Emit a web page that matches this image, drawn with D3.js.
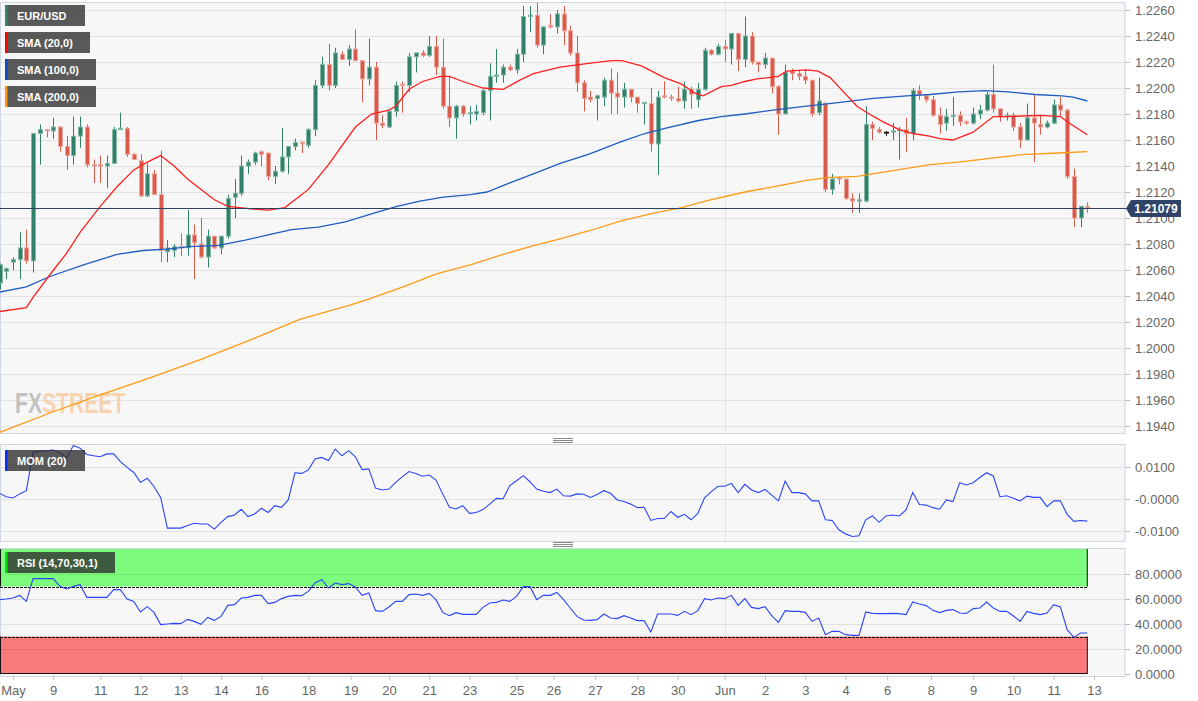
<!DOCTYPE html>
<html>
<head>
<meta charset="utf-8">
<script src="https://cdn.jsdelivr.net/npm/d3@7"></script>
<style>
  body { margin: 0; background: #fff; }
  svg { display: block; font-family: "Liberation Sans", Arial, sans-serif; }
</style>
</head>
<body>
<div id="chart"></div>
<script>
// ---- data (4h candles, EUR/USD) ----
const opens = [1.2050,1.2059,1.2066,1.2068,1.2077,1.2067,1.2165,1.2168,1.2167,1.2170,
1.2155,1.2148,1.2163,1.2170,1.2141,1.2141,1.2140,1.2142,1.2168,1.2169,
1.2149,1.2144,1.2117,1.2134,1.2118,1.2074,1.2075,1.2078,1.2077,1.2087,
1.2080,1.2070,1.2086,1.2077,1.2086,1.2116,1.2119,1.2140,1.2143,1.2151,
1.2150,1.2132,1.2136,1.2147,1.2155,1.2158,1.2156,1.2168,1.2202,1.2218,
1.2202,1.2226,1.2222,1.2230,1.2221,1.2207,1.2216,1.2173,1.2170,1.2182,
1.2203,1.2202,1.2224,1.2227,1.2225,1.2232,1.2216,1.2186,1.2177,1.2186,
1.2180,1.2180,1.2181,1.2198,1.2209,1.2210,1.2216,1.2214,1.2226,1.2255,
1.2256,1.2233,1.2248,1.2247,1.2257,1.2244,1.2227,1.2204,1.2193,1.2192,
1.2193,1.2206,1.2196,1.2193,1.2199,1.2193,1.2188,1.2188,1.2157,1.2194,
1.2193,1.2192,1.2190,1.2199,1.2191,1.2199,1.2229,1.2226,1.2232,1.2230,
1.2242,1.2222,1.2240,1.2220,1.2218,1.2223,1.2201,1.2180,1.2213,1.2211,
1.2209,1.2206,1.2181,1.2188,1.2122,1.2131,1.2130,1.2115,1.2113,1.2113,
1.2172,1.2168,1.2166,1.2166,1.2167,1.2168,1.2165,1.2198,1.2194,1.2191,
1.2179,1.2173,1.2178,1.2179,1.2174,1.2173,1.2180,1.2183,1.2195,1.2184,
1.2178,1.2179,1.2170,1.2160,1.2177,1.2172,1.2170,1.2173,1.2187,1.2183,
1.2132,1.2100,1.2109];
const highs = [1.2065,1.2062,1.2070,1.2089,1.2091,1.2165,1.2172,1.2168,1.2177,1.2170,
1.2163,1.2178,1.2178,1.2172,1.2145,1.2148,1.2148,1.2170,1.2181,1.2170,
1.2150,1.2149,1.2142,1.2137,1.2152,1.2083,1.2080,1.2088,1.2106,1.2095,
1.2100,1.2091,1.2086,1.2086,1.2118,1.2130,1.2148,1.2145,1.2151,1.2152,
1.2150,1.2140,1.2169,1.2155,1.2161,1.2159,1.2169,1.2206,1.2224,1.2234,
1.2231,1.2228,1.2233,1.2245,1.2221,1.2238,1.2220,1.2179,1.2184,1.2205,
1.2205,1.2227,1.2227,1.2229,1.2240,1.2240,1.2238,1.2209,1.2187,1.2187,
1.2186,1.2187,1.2199,1.2219,1.2230,1.2218,1.2218,1.2230,1.2263,1.2263,
1.2266,1.2247,1.2257,1.2260,1.2263,1.2248,1.2240,1.2206,1.2198,1.2195,
1.2208,1.2215,1.2212,1.2204,1.2199,1.2193,1.2189,1.2200,1.2198,1.2205,
1.2195,1.2201,1.2205,1.2201,1.2204,1.2231,1.2230,1.2234,1.2237,1.2242,
1.2242,1.2255,1.2243,1.2220,1.2227,1.2223,1.2202,1.2218,1.2215,1.2214,
1.2214,1.2206,1.2208,1.2189,1.2134,1.2132,1.2130,1.2119,1.2119,1.2186,
1.2174,1.2170,1.2167,1.2173,1.2170,1.2177,1.2200,1.2202,1.2194,1.2194,
1.2185,1.2184,1.2193,1.2182,1.2175,1.2185,1.2187,1.2197,1.2218,1.2184,
1.2181,1.2181,1.2173,1.2188,1.2195,1.2179,1.2175,1.2191,1.2193,1.2184,
1.2138,1.2109,1.2112];
const lows = [1.2045,1.2053,1.2060,1.2053,1.2065,1.2058,1.2141,1.2162,1.2161,1.2151,
1.2137,1.2141,1.2154,1.2139,1.2127,1.2127,1.2123,1.2142,1.2168,1.2147,
1.2145,1.2116,1.2116,1.2118,1.2066,1.2066,1.2070,1.2071,1.2071,1.2053,
1.2069,1.2062,1.2076,1.2072,1.2084,1.2100,1.2117,1.2134,1.2141,1.2140,
1.2129,1.2126,1.2135,1.2134,1.2152,1.2150,1.2154,1.2163,1.2200,1.2198,
1.2200,1.2222,1.2217,1.2221,1.2189,1.2202,1.2160,1.2169,1.2169,1.2178,
1.2181,1.2197,1.2212,1.2224,1.2224,1.2210,1.2184,1.2170,1.2161,1.2178,
1.2172,1.2175,1.2179,1.2175,1.2204,1.2204,1.2213,1.2211,1.2220,1.2243,
1.2231,1.2226,1.2246,1.2242,1.2233,1.2225,1.2197,1.2182,1.2189,1.2175,
1.2186,1.2180,1.2180,1.2185,1.2189,1.2181,1.2172,1.2151,1.2133,1.2192,
1.2190,1.2189,1.2184,1.2184,1.2185,1.2198,1.2225,1.2225,1.2220,1.2218,
1.2213,1.2216,1.2218,1.2212,1.2215,1.2196,1.2164,1.2180,1.2206,1.2206,
1.2203,1.2178,1.2179,1.2120,1.2118,1.2126,1.2114,1.2104,1.2104,1.2112,
1.2160,1.2165,1.2163,1.2160,1.2145,1.2151,1.2160,1.2191,1.2189,1.2178,
1.2165,1.2167,1.2171,1.2171,1.2172,1.2172,1.2176,1.2182,1.2181,1.2174,
1.2175,1.2167,1.2154,1.2160,1.2143,1.2164,1.2169,1.2172,1.2178,1.2130,
1.2093,1.2093,1.2104];
const closes = [1.2064,1.2061,1.2068,1.2077,1.2067,1.2165,1.2168,1.2167,1.2170,1.2155,
1.2148,1.2163,1.2170,1.2141,1.2140,1.2140,1.2142,1.2168,1.2169,1.2149,
1.2145,1.2117,1.2134,1.2118,1.2075,1.2077,1.2078,1.2077,1.2087,1.2081,
1.2070,1.2086,1.2077,1.2086,1.2115,1.2119,1.2140,1.2143,1.2150,1.2149,
1.2132,1.2136,1.2147,1.2155,1.2158,1.2157,1.2168,1.2202,1.2218,1.2202,
1.2227,1.2222,1.2230,1.2221,1.2207,1.2216,1.2173,1.2171,1.2182,1.2202,
1.2202,1.2224,1.2227,1.2225,1.2232,1.2216,1.2186,1.2177,1.2186,1.2180,
1.2181,1.2182,1.2198,1.2209,1.2210,1.2216,1.2214,1.2226,1.2255,1.2256,
1.2233,1.2247,1.2247,1.2257,1.2244,1.2227,1.2204,1.2192,1.2191,1.2194,
1.2206,1.2196,1.2193,1.2199,1.2193,1.2188,1.2189,1.2157,1.2193,1.2193,
1.2192,1.2190,1.2199,1.2195,1.2199,1.2229,1.2226,1.2232,1.2230,1.2242,
1.2222,1.2240,1.2220,1.2218,1.2223,1.2201,1.2180,1.2212,1.2211,1.2209,
1.2206,1.2180,1.2190,1.2122,1.2130,1.2130,1.2115,1.2113,1.2114,1.2172,
1.2169,1.2166,1.2166,1.2167,1.2168,1.2165,1.2198,1.2195,1.2191,1.2179,
1.2172,1.2178,1.2179,1.2174,1.2173,1.2180,1.2183,1.2195,1.2184,1.2178,
1.2179,1.2170,1.2160,1.2177,1.2173,1.2170,1.2173,1.2187,1.2183,1.2132,
1.2100,1.2109,1.21079];

// moving averages: [candle index, value]
const sma20 = [[0,1.2028],[4,1.2031],[5,1.2039],[7.3,1.2055],[10,1.2073],[12,1.2089],[15,1.2109],[17.5,1.2124],
[20,1.2137],[22,1.2143],[24,1.2148],[26,1.2140],[28,1.2130],[32,1.2114],[34,1.2109],[37.5,1.2107],[40,1.2106],
[42.5,1.2108],[46,1.2122],[49,1.2141],[53,1.2170],[55.4,1.2180],[58,1.2183],[59,1.2186],[61,1.2199],[63,1.2205],
[65.6,1.2209],[67,1.2209],[69,1.2205],[72,1.2200],[75,1.2199],[77.5,1.2206],[79.5,1.2211],[83.5,1.2216],
[87.7,1.2219],[91.2,1.2221],[92.7,1.2221],[95.6,1.2217],[99,1.2208],[101.6,1.2203],[103.6,1.2196],[104.8,1.2194],
[107.5,1.2201],[109,1.2202],[111,1.2205],[112.8,1.2207],[116,1.2209],[117.2,1.2213],[120.2,1.2214],[121.9,1.2213],
[123.7,1.2208],[125.7,1.2197],[127.7,1.2186],[129.2,1.2181],[131.6,1.2174],[134,1.2168],[136,1.2165],
[138.5,1.2163],[140,1.2161],[142,1.2160],[145,1.2166],[148,1.2178],[150,1.2178],[155,1.2179],[158,1.2178],
[159,1.2174],[162,1.2164]];
const sma100 = [[0,1.2043],[4,1.2047],[7.5,1.2055],[12.5,1.2064],[17.5,1.2072],[21.4,1.2075],[24.9,1.2076],
[28.4,1.2078],[32.6,1.2079],[36.6,1.2083],[40,1.2087],[43.5,1.2091],[47.5,1.2093],[51.5,1.2097],[55.9,1.2104],
[59.2,1.2109],[62.6,1.2113],[66.1,1.2116],[70.1,1.2118],[72.6,1.2120],[76,1.2127],[79.5,1.2134],[83.5,1.2142],
[87.7,1.2149],[92.7,1.2159],[96.1,1.2165],[99.1,1.2169],[104.1,1.2175],[107.5,1.2178],[111,1.2180],
[115.2,1.2183],[120.2,1.2186],[125.2,1.2189],[130.1,1.2192],[135.1,1.2194],[138.6,1.2195],[142.8,1.2197],
[146.8,1.2198],[150.2,1.2197],[154.2,1.2195],[158.2,1.2194],[159.9,1.2193],[162,1.2190]];
const sma200 = [[0,1.1935],[7.5,1.1950],[15,1.1964],[22.4,1.1977],[29.9,1.1991],[37.3,1.2006],[44.7,1.2022],
[52.2,1.2033],[55.2,1.2038],[60.1,1.2047],[65.1,1.2057],[70.1,1.2064],[75,1.2072],[79,1.2078],[83.5,1.2084],
[87.7,1.2090],[92.7,1.2098],[97.6,1.2104],[101.6,1.2108],[105.1,1.2113],[111,1.2120],[115.2,1.2124],
[120.2,1.2129],[123.2,1.2131],[127.7,1.2132],[132.6,1.2136],[138.6,1.2141],[142.8,1.2143],[147.8,1.2146],
[152.7,1.2149],[157.7,1.2150],[162,1.2151]];

const momentum = [0.0018,0.0007,0.0003,0.0016,0.0026,0.0146,0.0149,0.0151,0.0153,0.0144,
0.0128,0.0167,0.0159,0.0139,0.0135,0.0132,0.0141,0.0141,0.0117,0.0099,
0.0083,0.0052,0.0065,0.0039,0.0005,-0.0091,-0.0091,-0.0091,-0.0083,-0.0076,
-0.0078,-0.0078,-0.0094,-0.0073,-0.0055,-0.0050,-0.0032,-0.0055,-0.0047,-0.0029,
-0.0042,-0.0021,-0.0026,-0.0003,0.0082,0.0080,0.0091,0.0125,0.0130,0.0120,
0.0156,0.0135,0.0151,0.0132,0.0092,0.0094,0.0034,0.0028,0.0031,0.0052,
0.0070,0.0086,0.0080,0.0071,0.0075,0.0059,0.0016,-0.0026,-0.0031,-0.0021,
-0.0045,-0.0042,-0.0033,-0.0016,0.0002,0.0001,0.0042,0.0057,0.0073,0.0054,
0.0031,0.0024,0.0020,0.0031,0.0010,0.0009,0.0016,0.0015,0.0005,0.0014,
0.0026,0.0018,-0.0003,-0.0008,-0.0016,-0.0027,-0.0026,-0.0067,-0.0061,-0.0061,
-0.0039,-0.0057,-0.0048,-0.0065,-0.0045,0.0004,0.0023,0.0040,0.0040,0.0049,
0.0020,0.0046,0.0028,0.0020,0.0030,0.0012,-0.0006,0.0056,0.0020,0.0020,
0.0016,-0.0006,-0.0006,-0.0065,-0.0067,-0.0096,-0.0109,-0.0117,-0.0115,-0.0065,
-0.0053,-0.0073,-0.0053,-0.0050,-0.0053,-0.0034,0.0020,-0.0017,-0.0019,-0.0027,
-0.0032,-0.0003,-0.0008,0.0051,0.0044,0.0051,0.0067,0.0082,0.0072,0.0007,
0.0010,0.0002,-0.0006,0.0009,0.0005,0.0005,-0.0024,-0.0006,-0.0006,-0.0048,
-0.0070,-0.0067,-0.0069];

const rsi = [59.5,60.0,60.8,62.9,58.1,76.3,76.3,76.3,76.3,70.1,
68.0,70.1,71.5,61.3,61.3,61.3,61.3,67.5,67.5,60.0,
58.1,49.6,53.9,49.3,39.5,40.0,40.5,40.3,43.7,42.1,
39.7,45.3,42.9,46.1,54.9,55.5,60.8,61.3,62.9,62.9,
56.3,57.3,60.3,62.1,62.9,62.7,66.1,73.1,75.5,68.8,
72.8,71.5,72.3,69.6,62.9,64.8,50.7,50.1,53.6,58.1,
58.1,63.5,64.0,62.9,64.5,59.5,49.3,46.7,49.1,47.7,
47.7,47.7,53.3,56.8,57.3,59.2,58.1,62.1,69.9,69.9,
59.5,62.9,62.9,65.3,59.5,52.8,46.1,43.2,42.9,43.5,
48.0,44.8,44.3,46.7,44.8,42.7,42.7,33.6,48.0,48.0,
48.0,46.9,50.1,47.5,50.7,60.3,59.2,60.8,60.3,62.9,
54.9,60.3,53.3,52.3,53.9,46.7,41.3,50.7,50.1,50.1,
49.3,42.1,44.8,31.5,34.1,34.1,31.5,30.9,30.9,49.6,
48.5,48.3,48.3,48.5,48.3,47.5,57.6,56.0,54.7,50.9,
49.1,50.9,51.5,48.8,48.5,52.3,52.8,57.6,52.8,50.1,
50.1,46.4,42.1,50.1,48.5,47.5,48.8,55.5,53.6,35.5,
29.3,32.8,32.8];

const priceTicks = [1.1940,1.1960,1.1980,1.2000,1.2020,1.2040,1.2060,1.2080,1.2100,1.2120,
  1.2140,1.2160,1.2180,1.2200,1.2220,1.2240,1.2260];
const momTicks = [-0.01, 0, 0.01];
const rsiTicks = [0, 20, 40, 60, 80];
const rsiLevels = [30, 70];
// day labels placed at the candle index where they appear
const dayLabels = ['May','9','11','12','13','14','16','18','19','20','21','23','25','26','27','28','30',
  'Jun','2','3','4','6','8','9','10','11','13'];
const dayPos = [2,8,15,21,27,33,39,46,52.3,58,64,70,77,82.5,88.7,95,101,108,114,120,126,132.2,138.7,145,151,157,163];
const monthStart = 108;

// ---- layout ----
const width = 1198;
const height = 701;
const plotRight = 1125;
const main = { top: 2, bottom: 433 };
const momP = { top: 444, bottom: 541 };
const rsiP = { top: 548, bottom: 676 };

const green = '#30806a', greenEdge = '#86b8a8';
const red = '#d75a4a', redEdge = '#eda69d';

const svg = d3.select('#chart')
  .append('svg')
  .attr('width', width)
  .attr('height', height);

const x = d3.scaleLinear().domain([0, 162]).range([-0.5, 1087.3]);
const y = d3.scaleLinear().domain([1.1940, 1.2260]).range([426, 10]);
const yMom = d3.scaleLinear().domain([-0.01, 0.01]).range([531, 467]);
const yRsi = d3.scaleLinear().domain([0, 100]).range([674, 549]);

// panel backgrounds + clip paths
[['main', main], ['mom', momP], ['rsi', rsiP]].forEach(([id, p]) => {
  svg.append('rect')
    .attr('x', 0.5).attr('y', p.top + 0.5)
    .attr('width', plotRight - 0.5).attr('height', p.bottom - p.top)
    .attr('fill', '#f7f7f7')
    .attr('stroke', '#cfd5e1');
  svg.append('clipPath').attr('id', 'clip-' + id)
    .append('rect')
    .attr('x', 0).attr('y', p.top + 1)
    .attr('width', plotRight).attr('height', p.bottom - p.top - 1);
});

const gridColor = '#e2e2e2';

// horizontal gridlines
svg.append('g').selectAll('line').data(priceTicks).enter().append('line')
  .attr('x1', 1).attr('x2', plotRight)
  .attr('y1', d => Math.round(y(d)) + 0.5).attr('y2', d => Math.round(y(d)) + 0.5)
  .attr('stroke', gridColor);
svg.append('g').selectAll('line').data(momTicks).enter().append('line')
  .attr('x1', 1).attr('x2', plotRight)
  .attr('y1', d => Math.round(yMom(d)) + 0.5).attr('y2', d => Math.round(yMom(d)) + 0.5)
  .attr('stroke', gridColor);

// month gridline
[main, momP, rsiP].forEach(p => {
  svg.append('line')
    .attr('x1', Math.round(x(monthStart)) + 0.5).attr('x2', Math.round(x(monthStart)) + 0.5)
    .attr('y1', p.top + 1).attr('y2', p.bottom)
    .attr('stroke', gridColor);
});

// watermark (one text, stretched vertically)
const wm = svg.append('text')
  .attr('transform', 'translate(15,413) scale(0.96,1.32)')
  .attr('font-size', 22).attr('font-weight', 'bold');
wm.append('tspan').attr('fill', '#c2c2c2').text('FX');
wm.append('tspan').attr('fill', '#f7d3ad').text('STREET');

// ---- candles ----
const candles = opens.map((o, i) => ({ i, o, h: highs[i], l: lows[i], c: closes[i] }));
const colorOf = d => d.c > d.o ? green : (d.c < d.o ? red : '#222');
const edgeOf = d => d.c > d.o ? greenEdge : (d.c < d.o ? redEdge : '#222');

const cg = svg.append('g').attr('clip-path', 'url(#clip-main)');
cg.selectAll('.wick').data(candles).enter().append('line')
  .attr('class', 'wick')
  .attr('x1', d => Math.round(x(d.i)) + 0.5).attr('x2', d => Math.round(x(d.i)) + 0.5)
  .attr('y1', d => y(d.h)).attr('y2', d => y(d.l))
  .attr('stroke', colorOf);
cg.selectAll('.body').data(candles).enter().append('rect')
  .attr('class', 'body')
  .attr('x', d => Math.round(x(d.i)) - 1.5)
  .attr('width', 4)
  .attr('y', d => y(Math.max(d.o, d.c)))
  .attr('height', d => Math.max(1, y(Math.min(d.o, d.c)) - y(Math.max(d.o, d.c))))
  .attr('fill', colorOf)
  .attr('stroke', edgeOf)
  .attr('stroke-width', 1);

// moving averages
const maLine = d3.line().x(d => x(d[0])).y(d => y(d[1]));
[[sma200, '#ff9a14'], [sma100, '#1f5cc0'], [sma20, '#ff1f1f']].forEach(([pts, col]) => {
  cg.append('path').datum(pts)
    .attr('d', maLine)
    .attr('fill', 'none')
    .attr('stroke', col)
    .attr('stroke-width', 1.3);
});

// last price line
const last = closes[closes.length - 1];
const yLast = Math.round(y(last)) + 0.5;
svg.append('line')
  .attr('x1', 0).attr('x2', plotRight + 2)
  .attr('y1', yLast).attr('y2', yLast)
  .attr('stroke', '#2f4064').attr('stroke-width', 1);

// ---- right axes ----
function rightAxis(scale, ticks, fmt) {
  const g = svg.append('g')
    .attr('transform', `translate(${plotRight},0)`)
    .call(d3.axisRight(scale).tickValues(ticks).tickFormat(fmt).tickSize(5).tickPadding(5));
  g.select('.domain').remove();
  g.selectAll('line').attr('stroke', '#b8bec9');
  g.selectAll('text').attr('fill', '#666').attr('font-size', 13)
    .attr('font-family', '"Liberation Sans", Arial, sans-serif');
  return g;
}
rightAxis(y, priceTicks, d3.format('.4f'));
rightAxis(yMom, momTicks, d => (d <= 0 ? '-' : '') + Math.abs(d).toFixed(4));
rightAxis(yRsi, rsiTicks, d => d.toFixed(4));

// last price tag
const tag = svg.append('g');
tag.append('path')
  .attr('d', `M${plotRight + 1},${yLast} L${plotRight + 6},${yLast - 8.5} L${plotRight + 56},${yLast - 8.5} L${plotRight + 56},${yLast + 8.5} L${plotRight + 6},${yLast + 8.5} Z`)
  .attr('fill', '#2f4468');
tag.append('text')
  .attr('x', plotRight + 31).attr('y', yLast + 4.5)
  .attr('text-anchor', 'middle')
  .attr('fill', '#fff').attr('font-size', 12).attr('font-weight', 'bold')
  .text(d3.format('.5f')(last));

// ---- legends ----
function legend(yTop, w, label, bar, fill) {
  const g = svg.append('g');
  g.append('rect').attr('x', 5).attr('y', yTop).attr('width', w).attr('height', 21)
    .attr('fill', fill || 'rgba(45,45,45,0.78)');
  g.append('rect').attr('x', 5).attr('y', yTop).attr('width', 2.5).attr('height', 21).attr('fill', bar);
  g.append('text').attr('x', 17).attr('y', yTop + 14.5)
    .attr('fill', '#fff').attr('font-size', 11).attr('font-weight', 'bold')
    .text(label);
}
legend(5, 80, 'EUR/USD', '#2f8a6c');
legend(32, 85, 'SMA (20,0)', '#ff0000');
legend(59, 91, 'SMA (100,0)', '#0b4fb8');
legend(86, 91, 'SMA (200,0)', '#ff9500');

// ---- momentum panel ----
const mg = svg.append('g').attr('clip-path', 'url(#clip-mom)');
mg.append('path').datum(momentum)
  .attr('d', d3.line().x((d, i) => x(i)).y(d => yMom(d)))
  .attr('fill', 'none').attr('stroke', '#2a45f5').attr('stroke-width', 1.1);
legend(450, 80, 'MOM (20)', '#0a2cff');

// ---- RSI panel ----
const rg = svg.append('g').attr('clip-path', 'url(#clip-rsi)');
const bandRight = x(162);
rg.append('rect').attr('x', 0).attr('y', yRsi(100)).attr('width', bandRight).attr('height', yRsi(70) - yRsi(100))
  .attr('fill', '#7dfb7d');
rg.append('rect').attr('x', 0).attr('y', yRsi(30)).attr('width', bandRight).attr('height', yRsi(0) - yRsi(30))
  .attr('fill', '#fa7a7a');
rg.selectAll('.rgrid').data(rsiTicks.filter(d => d > 0)).enter().append('line')
  .attr('x1', 1).attr('x2', plotRight)
  .attr('y1', d => Math.round(yRsi(d)) + 0.5).attr('y2', d => Math.round(yRsi(d)) + 0.5)
  .attr('stroke', 'rgba(0,0,0,0.085)');
rg.selectAll('.lvl').data(rsiLevels).enter().append('line')
  .attr('x1', 0).attr('x2', bandRight)
  .attr('y1', d => Math.round(yRsi(d)) + 0.5).attr('y2', d => Math.round(yRsi(d)) + 0.5)
  .attr('stroke', '#111').attr('stroke-dasharray', '3,1');
// band edges
[[100, 70], [30, 0]].forEach(([a, b]) => {
  [0.5, bandRight].forEach(xx => {
    rg.append('line').attr('x1', xx).attr('x2', xx)
      .attr('y1', yRsi(a)).attr('y2', yRsi(b)).attr('stroke', '#111');
  });
});
rg.append('line').attr('x1', 0).attr('x2', bandRight)
  .attr('y1', yRsi(0) - 0.5).attr('y2', yRsi(0) - 0.5).attr('stroke', '#111');
rg.append('path').datum(rsi)
  .attr('d', d3.line().x((d, i) => x(i)).y(d => yRsi(d)))
  .attr('fill', 'none').attr('stroke', '#2a45f5').attr('stroke-width', 1.1);
legend(552, 110, 'RSI (14,70,30,1)', '#00e600');

// ---- bottom axis ----
const xb = svg.append('g')
  .attr('transform', `translate(0,${rsiP.bottom})`)
  .call(d3.axisBottom(x).tickValues(dayPos).tickFormat((d, i) => dayLabels[i]).tickSize(4).tickPadding(6));
xb.select('.domain').remove();
xb.selectAll('line').attr('stroke', '#b8bec9');
xb.selectAll('text').attr('fill', '#666').attr('font-size', 13)
  .attr('font-family', '"Liberation Sans", Arial, sans-serif');

// panel resize handles
[438, 542].forEach(yy => {
  [0, 2, 4].forEach(k => {
    svg.append('line').attr('x1', 553).attr('x2', 573)
      .attr('y1', yy + k + 0.5).attr('y2', yy + k + 0.5)
      .attr('stroke', '#888');
  });
});
</script>
</body>
</html>
